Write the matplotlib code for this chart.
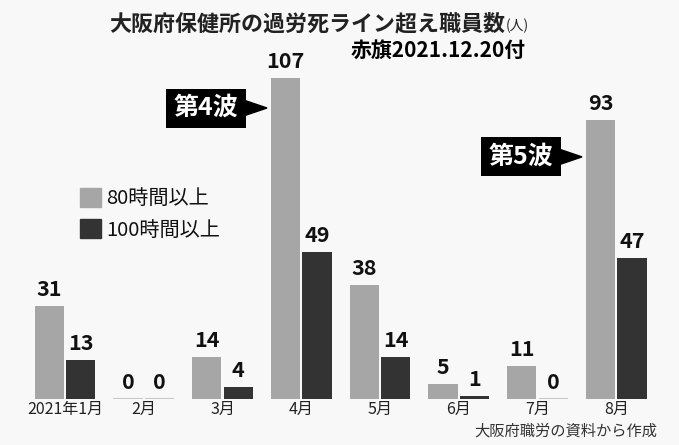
import matplotlib.pyplot as plt
from matplotlib.patches import Polygon

plt.rcParams["font.family"] = ["Noto Sans CJK JP", "DejaVu Sans"]

months = ["2021年1月", "2月", "3月", "4月", "5月", "6月", "7月", "8月"]
over80 = [31, 0, 14, 107, 38, 5, 11, 93]
over100 = [13, 0, 4, 49, 14, 1, 0, 47]
waves = [("第4波", 3, 97), ("第5波", 7, 80.7)]  # label, month index, arrow height

grey = "#a6a6a6"
dark = "#333333"
bg = "#f8f8f8"
W, H = 679, 445
PX = 78.75  # pixels per month group

fig = plt.figure(figsize=(W / 100, H / 100), dpi=100, facecolor=bg)
# axes bottom on the bar baseline, 3 px per person
ax = fig.add_axes([0, 46 / H, 1, 399 / H])
ax.set_facecolor("none")
ax.set_xlim(-65 / PX, (W - 65) / PX)
ax.set_ylim(0, 133)

x = list(range(len(months)))
w = 0.37
off = 0.2

for series, color, sign in ((over80, grey, -1), (over100, dark, 1)):
    xs = [i + sign * off for i in x]
    ax.bar(xs, series, width=w, color=color)
    for xi, v in zip(xs, series):
        if v == 0:
            ax.hlines(0, xi - w / 2, xi + w / 2, color="#c8c8c8", lw=1.5)
        ax.annotate(str(v), (xi, v), xytext=(0, 12), textcoords="offset points",
                    ha="center", va="center", fontsize=15.5, fontweight="bold",
                    color="#111111")

ax.set_xticks(x)
ax.set_xticklabels(months, fontsize=11.5, color="#222222")
ax.tick_params(axis="x", length=0, pad=1.5)
ax.set_yticks([])
for s in ax.spines.values():
    s.set_visible(False)


def callout(ax, label, xtip, ytip, fs=18, pad=0.3):
    dx = 22 / PX
    dy = 7.5 / 3
    ax.add_patch(Polygon([(xtip, ytip), (xtip - dx, ytip + dy), (xtip - dx, ytip - dy)],
                         closed=True, color="black"))
    gap = pad * fs * 100 / 72 / PX
    ax.text(xtip - dx - gap + 0.01, ytip, label, ha="right", va="center", color="white",
            fontsize=fs, fontweight="bold",
            bbox=dict(boxstyle=f"square,pad={pad}", fc="black", ec="none"))


for label, i, ytip in waves:
    callout(ax, label, i - off - w / 2 - 0.05, ytip)

# legend
h1 = plt.Rectangle((0, 0), 1, 1, color=grey)
h2 = plt.Rectangle((0, 0), 1, 1, color=dark)
ax.legend([h1, h2], ["80時間以上", "100時間以上"], loc="upper left",
          bbox_to_anchor=(70 / W, 1 - 178 / 399), frameon=False, fontsize=14.5,
          handlelength=1.05, handleheight=1.05, handletextpad=0.25,
          labelspacing=0.5, borderpad=0, labelcolor="#111111")

# titles
fig.text(505 / W, 1 - 30 / H, "大阪府保健所の過労死ライン超え職員数", ha="right",
         va="baseline", fontsize=15.8, fontweight="bold", color="#222222")
fig.text(506 / W, 1 - 30 / H, "(人)", ha="left", va="baseline",
         fontsize=10, color="#222222")
fig.text(438 / W, 1 - 50 / H, "赤旗2021.12.20付", ha="center", va="center",
         fontsize=15, fontweight="bold", color="black")
fig.text(657 / W, 1 - 431 / H, "大阪府職労の資料から作成", ha="right", va="center",
         fontsize=11, color="#333333")

fig.savefig("out.png", dpi=100, facecolor=bg)
